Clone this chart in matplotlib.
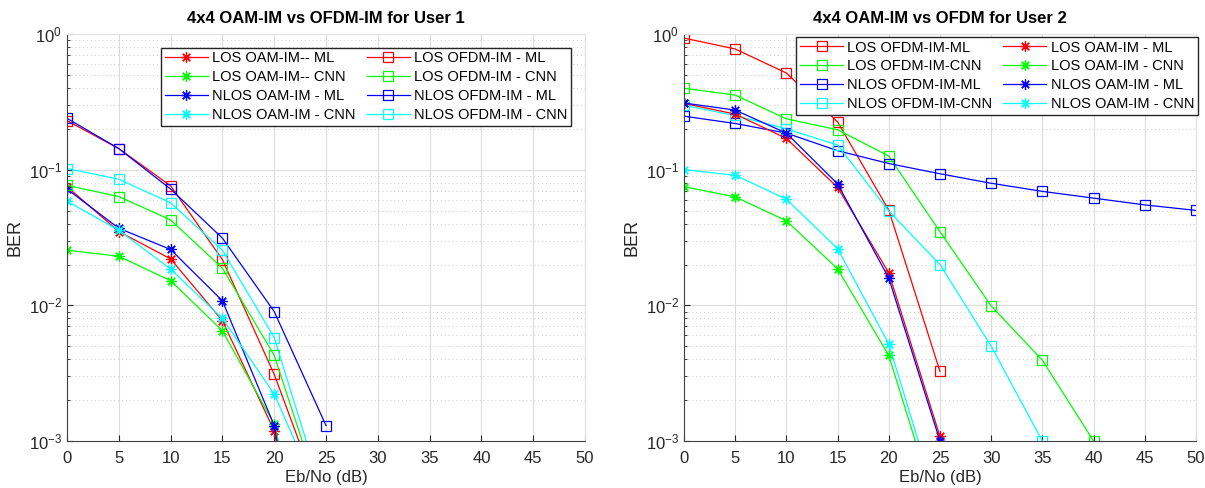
import matplotlib.pyplot as plt
import numpy as np
from matplotlib.ticker import LogLocator, NullFormatter

plt.rcParams["font.family"] = ["Liberation Sans", "DejaVu Sans"]

snr = [0, 5, 10, 15, 20, 25, 30, 35, 40, 45, 50]

# ---- User 1 (left) ----
u1_los_oam_ml = [0.075, 0.035, 0.022, 0.0077, 0.00119, 1.0e-5]
u1_los_oam_cnn = [0.0255, 0.023, 0.0152, 0.0065, 0.00133, 3.7e-5]
u1_nlos_oam_ml = [0.072, 0.037, 0.0258, 0.0108, 0.0013, 1.0e-5]
u1_nlos_oam_cnn = [0.0586, 0.0358, 0.0185, 0.0080, 0.00222, 3.0e-4]
u1_los_ofdm_ml = [0.23, 0.143, 0.076, 0.0217, 0.0031, 2.9e-4]
u1_los_ofdm_cnn = [0.0766, 0.0634, 0.0426, 0.0188, 0.00428, 2.9e-4]
u1_nlos_ofdm_ml = [0.239, 0.143, 0.072, 0.0313, 0.0090, 0.0013]
u1_nlos_ofdm_cnn = [0.102, 0.085, 0.057, 0.0255, 0.00578, 3.4e-4]

# ---- User 2 (right) ----
u2_los_ofdm_ml = [0.933, 0.776, 0.516, 0.225, 0.0504, 0.00326]
u2_los_ofdm_cnn = [0.398, 0.355, 0.237, 0.197, 0.126, 0.0349, 0.0099, 0.00394, 0.001]
u2_nlos_ofdm_ml = [0.248, 0.219, 0.186, 0.138, 0.111, 0.0933, 0.0794, 0.0692, 0.0617, 0.055, 0.0501]
u2_nlos_ofdm_cnn = [0.298, 0.251, 0.200, 0.152, 0.0495, 0.020, 0.0050, 0.001]
u2_los_oam_ml = [0.308, 0.257, 0.170, 0.074, 0.0174, 0.00108]
u2_los_oam_cnn = [0.075, 0.063, 0.042, 0.0186, 0.00427, 2.6e-4]
u2_nlos_oam_ml = [0.31, 0.275, 0.186, 0.0786, 0.0159, 0.001]
u2_nlos_oam_cnn = [0.10, 0.091, 0.0606, 0.0262, 0.0052, 3.0e-4]

R, G, B, C = "#ff0000", "#00ff00", "#0000ff", "#00ffff"
STAR = (8, 2, 0)

left_series = [
    (u1_los_oam_ml, R, STAR, "LOS OAM-IM-- ML"),
    (u1_los_oam_cnn, G, STAR, "LOS OAM-IM-- CNN"),
    (u1_nlos_oam_ml, B, STAR, "NLOS OAM-IM - ML"),
    (u1_nlos_oam_cnn, C, STAR, "NLOS OAM-IM - CNN"),
    (u1_los_ofdm_ml, R, "s", "LOS OFDM-IM - ML"),
    (u1_los_ofdm_cnn, G, "s", "LOS OFDM-IM - CNN"),
    (u1_nlos_ofdm_ml, B, "s", "NLOS OFDM-IM - ML"),
    (u1_nlos_ofdm_cnn, C, "s", "NLOS OFDM-IM - CNN"),
]
right_series = [
    (u2_los_ofdm_ml, R, "s", "LOS OFDM-IM-ML"),
    (u2_los_ofdm_cnn, G, "s", "LOS OFDM-IM-CNN"),
    (u2_nlos_ofdm_ml, B, "s", "NLOS OFDM-IM-ML"),
    (u2_nlos_ofdm_cnn, C, "s", "NLOS OFDM-IM-CNN"),
    (u2_los_oam_ml, R, STAR, "LOS OAM-IM - ML"),
    (u2_los_oam_cnn, G, STAR, "LOS OAM-IM - CNN"),
    (u2_nlos_oam_ml, B, STAR, "NLOS OAM-IM - ML"),
    (u2_nlos_oam_cnn, C, STAR, "NLOS OAM-IM - CNN"),
]

fig = plt.figure(figsize=(12.05, 4.88), dpi=100)
ax1 = fig.add_axes([0.0556, 0.0963, 0.4299, 0.8340])
ax2 = fig.add_axes([0.5676, 0.0963, 0.4249, 0.8340])


def style_axes(ax, title):
    ax.set_yscale("log")
    ax.set_xlim(0, 50)
    ax.set_ylim(1e-3, 1)
    ax.set_xticks(np.arange(0, 51, 5))
    ax.yaxis.set_major_locator(LogLocator(base=10, numticks=10))
    ax.yaxis.set_minor_locator(LogLocator(base=10, subs=np.arange(2, 10), numticks=10))
    ax.yaxis.set_minor_formatter(NullFormatter())
    ax.grid(True, which="major", color="#dcdcdc", linewidth=0.8, linestyle="-")
    ax.grid(True, which="minor", color="#d4d4d4", linewidth=0.8, linestyle=(0, (1, 2.5)))
    ax.set_axisbelow(True)
    ax.tick_params(which="both", direction="in", labelsize=12, colors="#262626")
    ax.tick_params(which="major", length=4)
    ax.tick_params(which="minor", length=2)
    ax.tick_params(axis="x", pad=7)
    for s in ["left", "bottom"]:
        ax.spines[s].set_color("#404040")
    for s in ["top", "right"]:
        ax.spines[s].set_color("#e0e0e0")
    ax.set_xlabel("Eb/No (dB)", fontsize=12, color="#262626", labelpad=3)
    ax.set_ylabel("BER", fontsize=13, color="#262626")
    ax.set_title(title, fontsize=12, fontweight="bold", pad=8)


def draw(ax, series):
    for vals, col, mk, lab in series:
        ax.plot(snr[:len(vals)], vals, color=col, marker=mk, markersize=7.5,
                markerfacecolor="none" if mk == "s" else col,
                markeredgewidth=0.9, linewidth=0.9, label=lab, clip_on=True)


leg_kw = dict(ncol=2, loc="upper right", fontsize=10.5, frameon=True, fancybox=False,
              edgecolor="#262626", framealpha=1, handlelength=2.95,
              columnspacing=0.75, labelspacing=0.33, borderpad=0.25,
              handletextpad=0.3, borderaxespad=0)

draw(ax1, left_series)
style_axes(ax1, "4x4 OAM-IM vs OFDM-IM for User 1")
ax1.legend(bbox_to_anchor=(0.973, 0.966), **leg_kw)

draw(ax2, right_series)
style_axes(ax2, "4x4 OAM-IM vs OFDM for User 2")
ax2.legend(bbox_to_anchor=(1.004, 0.993), **leg_kw)

fig.savefig("out.png", dpi=100)
